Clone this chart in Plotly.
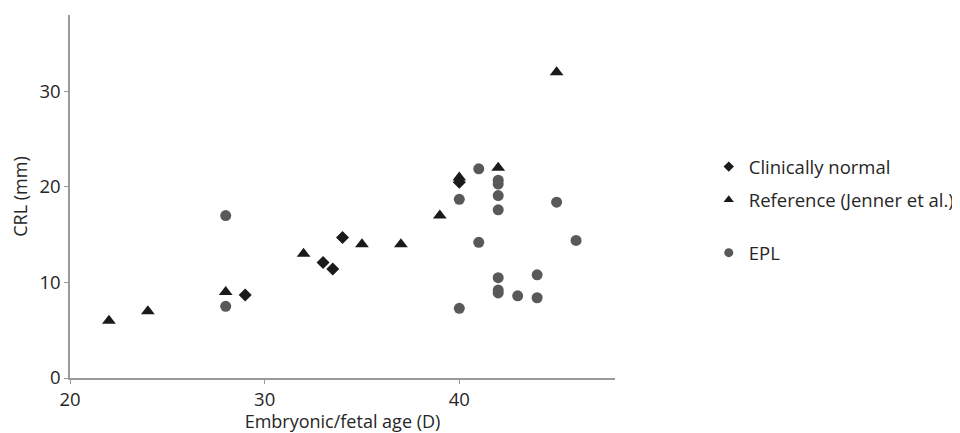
import plotly.graph_objects as go

# Clinically normal
normal_x = [29, 33, 33.5, 34, 40]
normal_y = [8.7, 12.1, 11.4, 14.7, 20.5]

# Reference (Jenner et al.)
ref_x = [22, 24, 28, 32, 35, 37, 39, 40, 42, 45]
ref_y = [6, 7, 9, 13, 14, 14, 17, 21, 22, 32]

# EPL
epl_x = [28, 28, 40, 40, 41, 41, 42, 42, 42, 42, 42, 42, 42, 43, 44, 44, 45, 46]
epl_y = [17, 7.5, 18.7, 7.3, 21.9, 14.2, 20.7, 20.3, 19.1, 17.6, 10.5, 9.2, 8.9, 8.6, 10.8, 8.4, 18.4, 14.4]

x_ticks = [20, 30, 40]
y_ticks = [0, 10, 20, 30]

font_family = "'Open Sans', sans-serif"
text_color = "#262626"

series = [
    ("Clinically normal", normal_x, normal_y, "diamond", 10, 8, "#1a1a1a", "legend"),
    ("Reference (Jenner et al.)", ref_x, ref_y, "triangle-up", 12, 9, "#1a1a1a", "legend2"),
    ("EPL", epl_x, epl_y, "circle", 11, 9, "#595959", "legend3"),
]

fig = go.Figure()
for name, xs, ys, sym, size, leg_size, color, leg in series:
    fig.add_trace(go.Scatter(
        x=xs, y=ys, mode="markers", name=name,
        marker=dict(symbol=sym, size=size, color=color),
        showlegend=False,
    ))
    # legend-only entry with a smaller marker, as in the reference
    fig.add_trace(go.Scatter(
        x=[None], y=[None], mode="markers", name=name,
        marker=dict(symbol=sym, size=leg_size, color=color),
        legend=leg, showlegend=True, hoverinfo="skip",
    ))

axis_common = dict(
    showline=True, linecolor="#9a9a9a", linewidth=1.5,
    showgrid=False, zeroline=False, automargin=False,
    ticks="outside", ticklen=4, tickcolor="#9a9a9a", tickwidth=1,
    tickfont=dict(size=18.5, color=text_color, family=font_family),
    title_font=dict(size=18, color=text_color, family=font_family),
)

leg_common = dict(xanchor="left", yanchor="middle",
                  font=dict(size=18.5, color=text_color, family=font_family),
                  itemsizing="trace", bgcolor="rgba(0,0,0,0)")

fig.update_layout(
    width=952, height=425,
    showlegend=True,
    margin=dict(l=62, r=345, t=7, b=55, autoexpand=False),
    plot_bgcolor="white", paper_bgcolor="white",
    font=dict(family=font_family, color=text_color),
    xaxis=dict(range=[20, 48], tickvals=x_ticks, title=dict(text="Embryonic/fetal age (D)", standoff=2), **axis_common),
    yaxis=dict(range=[0, 38], tickvals=y_ticks, title=dict(text="CRL (mm)", standoff=14), **axis_common),
    legend=dict(x=1.172, y=0.581, **leg_common),
    legend2=dict(x=1.172, y=0.490, **leg_common),
    legend3=dict(x=1.172, y=0.344, **leg_common),
)

fig.write_html("out.html")
